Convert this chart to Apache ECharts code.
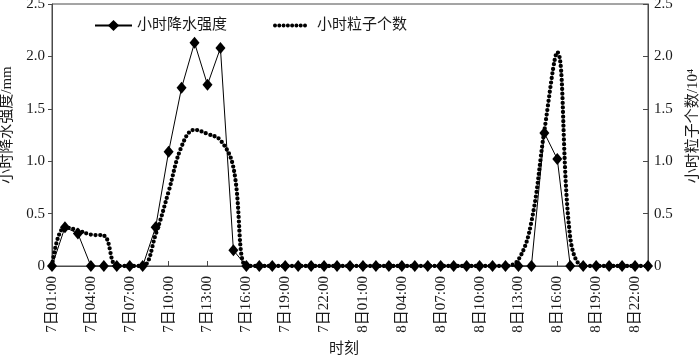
<!DOCTYPE html>
<html>
<head>
<meta charset="utf-8">
<script src="https://cdn.jsdelivr.net/npm/echarts@6/dist/echarts.min.js"></script>
<style>html,body{margin:0;padding:0;background:#fff;}#c{width:700px;height:357px;}</style>
</head>
<body>
<div id="c"></div>
<script>
var categories = [
  '7日01:00','7日02:00','7日03:00','7日04:00','7日05:00','7日06:00','7日07:00','7日08:00',
  '7日09:00','7日10:00','7日11:00','7日12:00','7日13:00','7日14:00','7日15:00','7日16:00',
  '7日17:00','7日18:00','7日19:00','7日20:00','7日21:00','7日22:00','7日23:00','8日00:00',
  '8日01:00','8日02:00','8日03:00','8日04:00','8日05:00','8日06:00','8日07:00','8日08:00',
  '8日09:00','8日10:00','8日11:00','8日12:00','8日13:00','8日14:00','8日15:00','8日16:00',
  '8日17:00','8日18:00','8日19:00','8日20:00','8日21:00','8日22:00','8日23:00'
];
var rainIntensity = [
  0, 0.37, 0.31, 0, 0, 0, 0, 0,
  0.37, 1.09, 1.70, 2.13, 1.73, 2.08, 0.15, 0,
  0, 0, 0, 0, 0, 0, 0, 0,
  0, 0, 0, 0, 0, 0, 0, 0,
  0, 0, 0, 0, 0, 0, 1.27, 1.02,
  0, 0, 0, 0, 0, 0, 0
];
var particleCount = [
  0, 0.37, 0.34, 0.30, 0.29, 0, 0, 0,
  0.30, 0.71, 1.14, 1.30, 1.26, 1.20, 0.94, 0,
  0, 0, 0, 0, 0, 0, 0, 0,
  0, 0, 0, 0, 0, 0, 0, 0,
  0, 0, 0, 0, 0.06, 0.42, 1.29, 2.04,
  0.27, 0, 0, 0, 0, 0, 0
];
var yTicks = [0, 0.5, 1.0, 1.5, 2.0, 2.5];

var FONT = "'Liberation Serif', 'Times New Roman', 'Noto Sans CJK SC', serif";
var TXT = '#1a1a1a';
var AX = '#4a4a4a';
function yFmt(v){ return v === 0 ? '0' : v.toFixed(1); }

// legend icon: a row of round dots
var dotPath = (function(){
  var p = 'path://', r = 2, n = 8, w = 34;
  for (var i = 0; i < n; i++) {
    var c = r + i * (w - 2 * r) / (n - 1);
    p += 'M' + (c - r) + ' ' + r + 'A' + r + ' ' + r + ' 0 1 0 ' + (c + r) + ' ' + r +
         'A' + r + ' ' + r + ' 0 1 0 ' + (c - r) + ' ' + r + 'Z';
  }
  return p;
})();

var chart = echarts.init(document.getElementById('c'), null, {renderer: 'canvas'});
chart.setOption({
  animation: false,
  backgroundColor: '#fff',
  textStyle: {fontFamily: FONT, color: TXT},
  grid: {left: 52, right: 52, top: 4, bottom: 91, containLabel: false, outerBoundsMode: 'none',
         show: true, borderColor: AX, borderWidth: 1, backgroundColor: 'transparent'},
  legend: [{
    left: 89, top: 13, itemWidth: 37, itemHeight: 14,
    textStyle: {fontFamily: FONT, fontSize: 15, color: TXT},
    data: ['小时降水强度']
  }, {
    left: 268, top: 13, itemWidth: 34, itemHeight: 4,
    textStyle: {fontFamily: FONT, fontSize: 15, color: TXT, padding: [0, 0, 0, 5]},
    data: [{name: '小时粒子个数', icon: dotPath}]
  }],
  xAxis: {
    type: 'category', data: categories, boundaryGap: false,
    name: '时刻', nameLocation: 'middle', nameGap: 76,
    nameTextStyle: {fontFamily: FONT, fontSize: 15, color: TXT, padding: [0, 12, 0, 0]},
    axisLine: {lineStyle: {color: AX, width: 1}},
    axisTick: {inside: true, length: 5, interval: 2, lineStyle: {color: AX}},
    axisLabel: {interval: 2, rotate: 90, margin: 10, fontSize: 15, color: TXT, fontFamily: FONT},
    splitLine: {show: false}
  },
  yAxis: [{
    type: 'value', min: yTicks[0], max: yTicks[yTicks.length - 1], interval: 0.5,
    name: '小时降水强度/mm', nameLocation: 'middle', nameGap: 37, nameRotate: 90,
    nameTextStyle: {fontFamily: FONT, fontSize: 15, color: TXT, padding: [0, 0, 0, 20]},
    axisLine: {show: true, lineStyle: {color: AX}},
    axisTick: {show: true, inside: false, length: 4, lineStyle: {color: AX}},
    axisLabel: {formatter: yFmt, fontSize: 15, color: TXT, fontFamily: FONT, margin: 7},
    splitLine: {show: false}
  }, {
    type: 'value', min: yTicks[0], max: yTicks[yTicks.length - 1], interval: 0.5, position: 'right',
    name: '小时粒子个数/10⁴', nameLocation: 'middle', nameGap: 38, nameRotate: 90,
    nameTextStyle: {fontFamily: FONT, fontSize: 15, color: TXT, padding: [0, 0, 0, 18]},
    axisLine: {show: true, lineStyle: {color: AX}},
    axisTick: {show: true, inside: true, length: 5, lineStyle: {color: AX}},
    axisLabel: {formatter: yFmt, fontSize: 15, color: TXT, fontFamily: FONT, margin: 6},
    splitLine: {show: false}
  }],
  series: [{
    name: '小时粒子个数', type: 'line', yAxisIndex: 1, data: particleCount,
    smooth: 0.4, showSymbol: false, symbol: 'none', z: 2,
    lineStyle: {color: '#000', width: 4.3, type: [0, 4.6], cap: 'round'},
    itemStyle: {color: '#000'}
  }, {
    name: '小时降水强度', type: 'line', yAxisIndex: 0, data: rainIntensity,
    symbol: 'diamond', symbolSize: [10, 12], showAllSymbol: true, z: 3,
    lineStyle: {color: '#000', width: 1},
    itemStyle: {color: '#000'}
  }]
});
</script>
</body>
</html>
